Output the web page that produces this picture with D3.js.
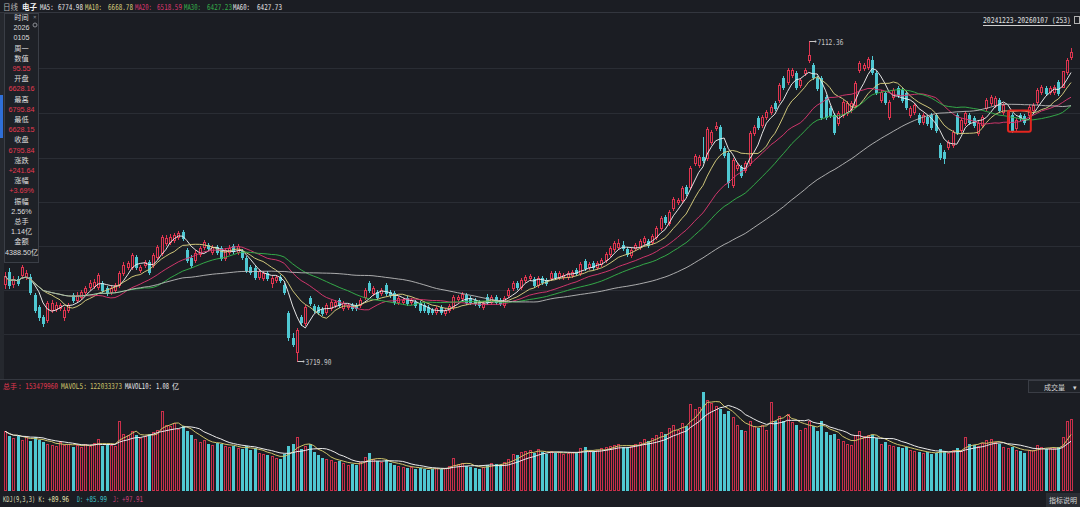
<!DOCTYPE html>
<html>
<head>
<meta charset="utf-8">
<script src="https://cdn.jsdelivr.net/npm/d3@7"></script>
<style>
  html, body { margin: 0; padding: 0; background: #1b1d23; overflow: hidden; }
  svg { display: block; }
</style>
</head>
<body>
<script>
// daily candles 20241223-20260107, SW electronics index
var opens = [
  4537,4664,4537,4590,4632,4611,4611,4420,4293,4187, 4155,4261,4272,4282,4187,4261,4420,4367,4399,4452,
  4505,4515,4505,4547,4494,4452,4473,4526,4653,4717, 4717,4823,4685,4738,4770,4738,4823,4865,4971,4982,
  5003,5035,5088,4897,4812,4791,4855,4929,4950,4876, 4929,4918,4812,4876,4939,4876,4886,4812,4717,4706,
  4611,4600,4653,4547,4579,4611,4526,4229,3964,3816, 4187,4123,4388,4303,4293,4272,4240,4282,4314,4367,
  4282,4293,4314,4314,4314,4399,4547,4441,4452,4441, 4526,4452,4441,4346,4346,4388,4346,4346,4335,4314,
  4293,4261,4240,4293,4229,4261,4293,4378,4388,4420, 4388,4367,4346,4293,4399,4346,4399,4367,4314,4420,
  4494,4547,4505,4579,4600,4590,4526,4600,4579,4600, 4653,4611,4611,4611,4632,4685,4653,4780,4717,4759,
  4717,4749,4791,4855,4908,4929,4950,4908,4844,4918, 4929,4982,4992,4982,5035,5130,5247,5183,5342,5406,
  5427,5565,5565,5819,5798,5883,5872,6042,6190,6201, 5978,5925,5586,5766,5777,5745,5819,6137,6296,6222,
  6307,6360,6455,6487,6720,6678,6752,6773,6646,6773, 6911,6858,6720,6720,6519,6402,6328,6243,6328,6349,
  6381,6434,6805,6826,6837,6911,6773,6487,6561,6307, 6519,6614,6593,6561,6328,6360,6328,6254,6307,6328,
  6328,6010,5936,5989,6010,6328,6169,6243,6328,6296, 6137,6222,6402,6455,6434,6487,6360,6243,6328,6190,
  6328,6317,6328,6381,6466,6572,6614,6572,6572,6678, 6628.16,6784,6943
];
var highs = [
  4664,4706,4621,4621,4738,4685,4643,4441,4314,4208, 4356,4367,4346,4335,4293,4335,4441,4452,4473,4515,
  4579,4590,4653,4568,4515,4515,4547,4674,4770,4780, 4865,4844,4738,4791,4791,4865,4950,5056,5056,5066,
  5077,5098,5109,4918,4844,4897,4939,5003,4971,4950, 4950,4939,4918,4950,4960,4960,4908,4833,4738,4727,
  4696,4674,4674,4621,4632,4632,4547,4250,4017,4070, 4208,4314,4409,4325,4314,4293,4335,4367,4367,4388,
  4356,4335,4335,4335,4388,4494,4568,4515,4473,4494, 4547,4473,4462,4409,4388,4409,4388,4367,4356,4335,
  4314,4282,4303,4314,4282,4325,4420,4420,4452,4441, 4409,4388,4367,4356,4431,4420,4420,4388,4409,4494,
  4568,4568,4600,4632,4643,4611,4621,4621,4600,4674, 4674,4674,4653,4674,4685,4706,4770,4802,4770,4780,
  4780,4812,4876,4939,4992,5013,4992,4929,4918,4971, 5013,5045,5013,5066,5151,5257,5268,5321,5459,5448,
  5575,5586,5787,5915,5904,6095,6201,6169,6254,6222, 5999,5946,5872,5819,5798,5840,6158,6222,6317,6328,
  6381,6434,6476,6667,6741,6826,6826,6794,6720,6826, 7112.36,6879,6741,6741,6540,6423,6349,6370,6487,6476,
  6476,6688,6900,6879,6943,6953,6794,6593,6582,6487, 6614,6635,6614,6582,6423,6455,6349,6349,6328,6349,
  6349,6031,5957,6063,6169,6349,6296,6370,6349,6317, 6264,6328,6508,6540,6529,6508,6455,6381,6349,6296,
  6349,6339,6434,6455,6614,6646,6635,6635,6646,6699, 6795.84,6932,7038
];
var lows = [
  4494,4494,4505,4526,4600,4590,4431,4240,4155,4091, 4134,4240,4250,4261,4155,4240,4346,4346,4378,4431,
  4484,4494,4484,4452,4420,4431,4452,4505,4632,4696, 4696,4696,4664,4717,4643,4717,4802,4844,4950,4960,
  4982,5013,5003,4770,4717,4770,4833,4908,4897,4855, 4855,4791,4791,4855,4865,4855,4802,4664,4643,4590,
  4590,4579,4579,4505,4558,4558,4431,3943,3880,3719.90, 4102,4102,4314,4240,4219,4208,4219,4261,4293,4293,
  4261,4272,4261,4261,4293,4378,4452,4420,4378,4420, 4420,4399,4325,4325,4325,4314,4325,4293,4240,4240,
  4219,4219,4219,4219,4208,4240,4272,4356,4367,4325, 4325,4314,4293,4272,4325,4325,4325,4314,4293,4399,
  4473,4484,4484,4558,4579,4505,4505,4537,4526,4579, 4590,4590,4590,4590,4611,4632,4632,4685,4696,4696,
  4696,4727,4770,4833,4886,4908,4897,4833,4823,4897, 4908,4960,4929,4960,5013,5109,5172,5162,5321,5385,
  5406,5480,5544,5798,5777,5830,5851,6021,6169,5957, 5883,5565,5565,5745,5671,5724,5798,6116,6179,6201,
  6286,6339,6381,6466,6604,6657,6731,6604,6625,6752, 6890,6710,6593,6286,6286,6307,6127,6222,6307,6328,
  6360,6413,6784,6805,6816,6763,6551,6466,6445,6286, 6498,6519,6466,6392,6307,6339,6233,6233,6222,6179,
  6148,5862,5819,5968,5989,6127,6148,6222,6233,6201, 6116,6201,6381,6434,6413,6360,6339,6222,6148,6169,
  6275,6233,6307,6360,6445,6551,6540,6551,6551,6540, 6628.15,6763,6922
];
var closes = [
  4621,4526,4590,4547,4717,4653,4452,4261,4187,4123, 4335,4335,4314,4314,4261,4314,4367,4420,4452,4494,
  4547,4558,4632,4473,4441,4494,4526,4653,4738,4759, 4844,4717,4717,4770,4664,4844,4929,5035,5024,5035,
  5056,5077,5024,4791,4738,4865,4918,4982,4918,4929, 4876,4812,4897,4918,4886,4939,4823,4685,4664,4611,
  4674,4653,4600,4600,4611,4579,4452,3975,3901,4049, 4134,4293,4335,4261,4240,4229,4314,4346,4346,4314,
  4335,4314,4282,4282,4367,4473,4473,4494,4399,4473, 4441,4420,4346,4388,4367,4335,4367,4314,4261,4261,
  4240,4240,4282,4240,4261,4303,4399,4399,4431,4346, 4346,4335,4314,4335,4346,4399,4346,4335,4388,4473,
  4547,4505,4579,4611,4621,4526,4600,4558,4547,4653, 4611,4653,4632,4653,4664,4653,4749,4706,4749,4717,
  4759,4791,4855,4918,4971,4971,4918,4855,4897,4950, 4992,5024,4950,5045,5130,5236,5194,5300,5438,5427,
  5554,5501,5766,5893,5883,5851,6179,6148,6211,5978, 5904,5618,5851,5798,5692,5819,6137,6201,6201,6307,
  6360,6413,6402,6646,6625,6805,6805,6625,6699,6805, 6964,6731,6614,6307,6307,6328,6148,6349,6466,6455,
  6455,6667,6879,6858,6922,6784,6572,6572,6466,6466, 6593,6540,6487,6413,6402,6434,6254,6328,6243,6201,
  6169,5883,5872,6042,6148,6148,6275,6349,6254,6222, 6243,6307,6487,6519,6508,6381,6434,6360,6169,6275,
  6296,6254,6413,6434,6593,6625,6561,6614,6625,6561, 6795.84,6911,6996
];
// volume, millions of shares
var volumes = [
  127,117,112,117,108,114,106,114,108,104, 100,98,95,103,97,100,94,98,92,100,
  96,101,110,95,99,97,96,149,122,118, 128,120,112,116,122,125,130,170,140,138,
  145,132,138,128,118,110,104,108,100,98, 102,100,96,92,95,90,88,96,86,90,
  80,78,76,74,70,66,78,95,100,114, 88,96,100,82,75,70,68,64,60,62,
  58,55,57,54,60,72,80,66,62,60, 64,58,54,52,50,48,50,46,48,45,
  44,46,48,45,47,52,70,56,58,52, 50,48,46,50,55,58,56,54,60,66,
  78,75,82,84,86,80,88,82,78,84, 80,82,78,80,82,80,90,92,84,82,
  86,90,92,96,98,100,94,92,96,100, 104,110,106,112,118,126,122,134,140,130,
  145,138,185,176,180,212,195,188,182,176, 165,170,158,140,130,128,150,138,135,140,
  130,190,150,160,150,165,148,140,130,135, 150,138,128,150,125,118,122,110,106,100,
  98,120,127,116,120,118,112,100,104,98, 96,94,90,92,86,84,82,80,82,78,
  80,88,84,80,86,90,84,115,100,98, 96,102,108,110,104,100,92,90,94,86,
  84,80,86,86,98,94,88,90,90,92, 114,150,153.48
];

var maDays = [5, 10, 20, 30, 60],
    maColors = ["#eeeeee", "#d8cf7e", "#d8376f", "#35b04a", "#c4c4c4"],
    maLabels = ["MA5:", "MA10:", "MA20:", "MA30:", "MA60:"],
    maValues = ["6774.98", "6668.78", "6518.59", "6427.23", "6427.73"];
var volDays = [5, 10],
    volColors = ["#cfc46a", "#ececec"];

var infoLabels = ["时间", "2026", "0105", "周一", "数值", "95.55", "开盘", "6628.16", "最高", "6795.84",
                  "最低", "6628.15", "收盘", "6795.84", "涨跌", "+241.64", "涨幅", "+3.69%", "振幅", "2.56%",
                  "总手", "1.14亿", "金额", "4388.50亿"];
var infoRed = ["95.55", "6628.16", "6795.84", "6628.15", "+241.64", "+3.69%"];
var boxed = { from: 237.1, to: 242.5, hi: 6375, lo: 6150 };

var W = 1080, H = 507,
    up = "#df3550", volUp = "#c92f4a", down = "#4fc8d2", bg = "#1b1d23", grid = "#2a2d34",
    mono = "'DejaVu Sans Mono', monospace",
    cjk = "'Noto Sans CJK SC', 'Noto Sans', sans-serif";

var n = closes.length;
var x = d3.scaleLinear().domain([0, n - 1]).range([5, 1071]);
var y = d3.scaleLinear().domain([3719.90, 7112.36]).range([361, 41]);
var yv = d3.scaleLinear().domain([0, 212]).range([490, 392]);

function movingAvg(arr, k) {
  return arr.map(function(d, i) {
    return d3.mean(arr.slice(Math.max(0, i - k + 1), i + 1));
  });
}

var svg = d3.select("body").append("svg")
    .attr("width", W)
    .attr("height", H)
    .style("font-family", mono);

svg.append("rect").attr("width", W).attr("height", H).attr("fill", bg);

// grid rows
var rows = [68, 113, 158, 202, 246, 290, 334];
svg.selectAll("line.grid").data(rows).enter().append("line")
    .attr("x1", 0).attr("x2", W)
    .attr("y1", function(d) { return d + 0.5; }).attr("y2", function(d) { return d + 0.5; })
    .attr("stroke", grid);
svg.append("line").attr("x1", 0).attr("x2", W).attr("y1", 12.5).attr("y2", 12.5).attr("stroke", "#33363e");
svg.append("line").attr("x1", 0).attr("x2", W).attr("y1", 379.5).attr("y2", 379.5).attr("stroke", "#34373f");

// candles
var idx = d3.range(n);
var candles = svg.append("g").attr("shape-rendering", "crispEdges");
candles.selectAll("line").data(idx).enter().append("line")
    .attr("x1", function(i) { return Math.round(x(i)) + 0.5; })
    .attr("x2", function(i) { return Math.round(x(i)) + 0.5; })
    .attr("y1", function(i) { return Math.round(y(highs[i])); })
    .attr("y2", function(i) { return Math.round(y(lows[i])) + 1; })
    .attr("stroke", function(i) { return closes[i] >= opens[i] ? up : down; });
candles.selectAll("rect").data(idx).enter().append("rect")
    .each(function(i) {
      var cx = Math.round(x(i)),
          t = Math.round(y(Math.max(opens[i], closes[i]))),
          b = Math.round(y(Math.min(opens[i], closes[i]))),
          sel = d3.select(this);
      if (closes[i] >= opens[i]) {
        sel.attr("x", cx - 0.5).attr("y", t + 0.5).attr("width", 2).attr("height", Math.max(1, b - t))
           .attr("fill", bg).attr("stroke", up);
      } else {
        sel.attr("x", cx - 1).attr("y", t).attr("width", 3).attr("height", Math.max(1, b - t + 1))
           .attr("fill", down);
      }
    });

// moving averages
maDays.forEach(function(k, j) {
  svg.append("path")
      .datum(movingAvg(closes, k))
      .attr("fill", "none")
      .attr("stroke", maColors[j])
      .attr("stroke-width", 1)
      .attr("stroke-opacity", j == 4 ? 0.85 : 0.95)
      .attr("d", d3.line().x(function(d, i) { return x(i); }).y(function(d) { return y(d); }));
});

// text helper: squeeze to a given width with a horizontal scale
function label(px, py, str, color, len, font, size) {
  var t = svg.append("text").attr("x", 0).attr("y", 0).attr("fill", color)
      .attr("font-size", size || 8).attr("font-family", font || mono).text(str);
  var sx = 1;
  if (len) {
    var w = t.node().getComputedTextLength();
    if (w > 0) sx = len / w;
  }
  t.attr("transform", "translate(" + px + "," + py + ") scale(" + sx + ",1)");
  return t;
}

// extreme price markers
var hiI = d3.maxIndex(highs), loI = d3.minIndex(lows);
[[hiI, highs[hiI]], [loI, lows[loI]]].forEach(function(m) {
  var px = Math.round(x(m[0])) + 0.5, py = Math.round(y(m[1])) + 0.5;
  svg.append("line").attr("x1", px).attr("x2", px + 6).attr("y1", py).attr("y2", py).attr("stroke", "#c8c8c8");
  svg.append("circle").attr("cx", px + 6).attr("cy", py).attr("r", 1).attr("fill", "#c8c8c8");
  label(px + 8, py + 3, d3.format(".2f")(m[1]), "#c8c8c8", 26);
});

// boxed candles
svg.append("rect")
    .attr("x", x(boxed.from)).attr("y", y(boxed.hi))
    .attr("width", x(boxed.to) - x(boxed.from)).attr("height", y(boxed.lo) - y(boxed.hi))
    .attr("rx", 2).attr("fill", "none").attr("stroke", "#e4261f").attr("stroke-width", 2);

// volume
var vol = svg.append("g").attr("shape-rendering", "crispEdges");
vol.selectAll("rect").data(idx).enter().append("rect")
    .each(function(i) {
      var cx = Math.round(x(i)), t = Math.round(yv(volumes[i])), sel = d3.select(this);
      if (closes[i] >= opens[i]) {
        sel.attr("x", cx - 0.5).attr("y", t + 0.5).attr("width", 2).attr("height", 490 - t)
           .attr("fill", bg).attr("stroke", volUp);
      } else {
        sel.attr("x", cx - 1).attr("y", t).attr("width", 3).attr("height", 491 - t).attr("fill", down);
      }
    });
volDays.forEach(function(k, j) {
  svg.append("path")
      .datum(movingAvg(volumes, k))
      .attr("fill", "none")
      .attr("stroke", volColors[j])
      .attr("stroke-width", 1)
      .attr("d", d3.line().x(function(d, i) { return x(i); }).y(function(d) { return yv(d); }));
});

// header
label(3, 9.5, "日线", "#b4b4b4", null, cjk, 7.5);
label(22, 9.5, "电子", "#f2f2f2", null, cjk, 7.5).attr("font-weight", "bold");
var maX = [[40, 58], [85, 108], [135, 157], [184, 207], [233, 257]];
maLabels.forEach(function(s, j) {
  var c = (j == 0 || j == 4) ? "#e6e6e6" : maColors[j];
  label(maX[j][0], 9.5, s, c, s.length * 3.4);
  label(maX[j][1], 9.5, maValues[j], c, 25);
});
label(983, 23, "20241223-20260107 (253)", "#e4e4e4", 88);
svg.append("line").attr("x1", 983).attr("x2", 1071).attr("y1", 25.5).attr("y2", 25.5).attr("stroke", "#d0d0d0");
svg.append("rect").attr("x", 1074.5).attr("y", 16.5).attr("width", 5).attr("height", 7)
    .attr("fill", "none").attr("stroke", "#b0b0b0");

// volume header
label(3, 389, "总手", "#e0374f", null, cjk, 7);
label(18, 389, ": 153479960", "#e0374f", 40);
label(61, 389, "MAVOL5:", "#cfc46a", 26);
label(90, 389, "122033373", "#cfc46a", 32);
label(125, 389, "MAVOL10:", "#ececec", 27);
label(156, 389, "1.08", "#ececec", 13);
label(172, 389, "亿", "#ececec", null, cjk, 7);
svg.append("rect").attr("x", 1028.5).attr("y", 380.5).attr("width", 52).attr("height", 12)
    .attr("fill", "#1f2228").attr("stroke", "#3a3d45");
label(1044, 390, "成交量", "#d4d4d4", null, cjk, 7);
label(1073, 390, "▾", "#d4d4d4", null, cjk, 7);

// kdj footer
label(3, 502, "KDJ(9,3,3) K:", "#deddb8", 42);
label(48, 502, "+89.96", "#e8e4b0", 21);
label(77, 502, "D:", "#3fc1c6", 6);
label(86, 502, "+85.99", "#3fc1c6", 21);
label(113, 502, "J:", "#d2407a", 6);
label(122, 502, "+97.91", "#d2407a", 21);
svg.append("rect").attr("x", 1046).attr("y", 493).attr("width", 34).attr("height", 14).attr("fill", "#2a2d33");
label(1049, 503, "指标说明", "#d8d8d8", null, cjk, 7);

// side strip and info panel
svg.append("rect").attr("x", 0).attr("y", 13).attr("width", 4).attr("height", 366).attr("fill", "#25282e");
svg.append("rect").attr("x", 0).attr("y", 95).attr("width", 3).attr("height", 43).attr("fill", "#2f6fd8");
svg.append("rect").attr("x", 4.5).attr("y", 13.5).attr("width", 34).attr("height", 249)
    .attr("fill", "#1e2127").attr("stroke", "#3a3e46");
svg.selectAll("text.info").data(infoLabels).enter().append("text")
    .attr("x", 21.5)
    .attr("y", function(d, i) { return 20 + i * 10.2; })
    .attr("text-anchor", "middle")
    .attr("font-family", function(d) { return /[\u4e00-\u9fff]/.test(d) && d.length == 2 ? cjk : "'Liberation Sans', 'Noto Sans CJK SC', sans-serif"; })
    .attr("font-size", 7.2)
    .attr("fill", function(d, i) { return infoRed.indexOf(d) >= 0 && i % 2 == 1 ? "#e6394f" : "#dedede"; })
    .text(function(d) { return d; });
label(33, 19, "×", "#8a8d94", null, mono, 6);
svg.append("circle").attr("cx", 35).attr("cy", 25).attr("r", 2).attr("fill", "none").attr("stroke", "#8a8d94");
</script>
</body>
</html>
